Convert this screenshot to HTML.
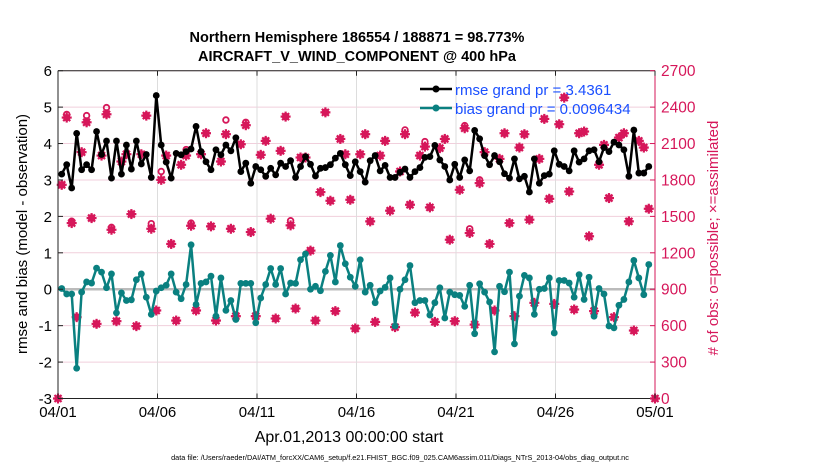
<!DOCTYPE html>
<html><head><meta charset="utf-8"><style>
body{margin:0;background:#fff;}
svg{display:block;font-family:"Liberation Sans",Arial,sans-serif;}
</style></head><body>
<svg id="chart" width="830" height="470" viewBox="0 0 830 470">
<text x="357" y="42" text-anchor="middle" font-size="14.5" font-weight="bold">Northern Hemisphere 186554 / 188871 = 98.773%</text>
<text x="357" y="61" text-anchor="middle" font-size="14.5" font-weight="bold">AIRCRAFT_V_WIND_COMPONENT @ 400 hPa</text>
<g id="grid"></g>
<g id="marks"></g>
<g id="axes"></g>
<text transform="translate(27,234) rotate(-90)" text-anchor="middle" font-size="15">rmse and bias (model - observation)</text>
<text transform="translate(718,238) rotate(-90)" text-anchor="middle" font-size="15" fill="#d6175a"># of obs: o=possible; ×=assimilated</text>
<text x="349" y="442" text-anchor="middle" font-size="16">Apr.01,2013 00:00:00 start</text>
<text x="400" y="460" text-anchor="middle" font-size="7.3">data file: /Users/raeder/DAI/ATM_forcXX/CAM6_setup/f.e21.FHIST_BGC.f09_025.CAM6assim.011/Diags_NTrS_2013-04/obs_diag_output.nc</text>
<g>
<line x1="420" y1="89" x2="452" y2="89" stroke="#000" stroke-width="2.5"/><circle cx="436" cy="89" r="3.5" fill="#000"/>
<text x="455" y="95" font-size="15" fill="#1a4fff">rmse grand pr = 3.4361</text>
<line x1="420" y1="108" x2="452" y2="108" stroke="#0a8080" stroke-width="2.5"/><circle cx="436" cy="108" r="3.5" fill="#0a8080"/>
<text x="455" y="114" font-size="15" fill="#1a4fff">bias grand pr = 0.0096434</text>
</g>
</svg>
<script>
const rmse=[3.16,3.42,2.78,4.28,3.28,3.42,3.28,4.33,3.7,4.07,3.05,4.07,3.16,3.96,3.3,4.07,3.44,3.7,3.07,5.32,3.96,3.49,3.05,3.73,3.69,3.78,3.85,4.47,3.78,3.5,
3.28,3.83,3.69,3.96,3.8,4.16,3.23,3.46,2.91,3.37,3.28,3.1,3.32,3.14,3.46,3.37,3.53,3.07,3.37,3.64,3.43,3.11,3.32,3.34,3.42,3.6,3.73,3.42,3.12,3.5,
3.23,2.94,3.53,3.67,3.25,3.4,3.07,3.07,3.21,3.3,3.07,3.23,3.34,3.62,3.64,3.95,3.55,3.37,3.0,3.43,3.07,3.55,3.25,4.36,4.13,3.67,3.42,3.67,3.5,3.17,
3.05,3.58,3.03,3.1,2.67,3.58,2.91,3.12,3.16,3.8,3.43,3.37,3.25,3.8,3.49,3.58,3.8,3.83,3.5,3.89,3.78,4.04,3.96,3.83,3.1,4.37,3.19,3.19,3.37];
const bias=[0.02,-0.13,-0.13,-2.17,-0.08,0.2,0.17,0.58,0.47,0.04,0.42,-0.65,-0.1,-0.31,-0.29,0.26,0.42,-0.22,-0.69,-0.05,0.04,0.11,0.42,-0.08,-0.26,0.13,1.22,-0.42,0.16,0.2,
0.36,-0.74,0.31,-0.58,-0.31,-0.83,0.16,0.16,0.16,-0.92,-0.24,0.13,0.57,0.13,0.57,-0.13,0.17,0.16,0.81,0.97,0,0.08,-0.04,0.49,0.93,0.2,1.2,0.7,0.33,0.08,
0.81,-0.08,0.11,-0.37,-0.05,0.05,0.31,-1.01,0,0.26,0.65,-0.37,-0.31,-0.31,-0.71,-0.37,0.04,-0.79,-0.08,-0.15,-0.17,-0.47,0.11,-1.22,0.15,-0.08,-0.35,-1.72,0.08,-0.07,
0.47,-1.5,-0.19,0.38,0.31,-0.69,0,0.02,0.31,-1.2,0.24,0.24,0.17,-0.22,0.4,-0.28,0.33,-0.74,0.02,-0.13,-1.01,-1.06,-0.44,-0.28,0.2,0.79,0.31,-0.15,0.68];
const nUsed=[1760,2314,1445,670,2029,2275,1486,615,2001,2341,1390,637,1952,2012,1519,596,2012,2330,1398,725,1801,2001,1273,642,1925,2001,1423,725,2012,2185,
1418,642,1952,2177,1398,678,2094,2251,1371,678,2007,2122,1481,659,2040,2322,1426,741,1985,1985,1218,642,1700,2357,1629,720,2138,2012,1637,577,
2012,2177,1459,631,2001,2122,1547,588,1870,2177,1596,708,2001,2075,1574,631,2062,2138,1308,637,1719,2226,1363,609,1774,2029,1273,725,1974,2185,
1445,678,2067,2177,1473,788,1974,2303,1645,779,2259,2478,1705,733,2185,2199,1336,720,1925,2089,1651,670,2149,2185,1459,560,2122,2067,1563];
const nPoss=[1760,2340,1460,670,2029,2330,1486,615,2001,2396,1410,637,1952,2012,1519,596,2012,2330,1440,725,1870,2001,1273,642,1925,2050,1445,725,2012,2185,
1418,642,1952,2294,1398,678,2094,2275,1371,678,2007,2122,1481,659,2040,2322,1464,741,1985,1985,1218,642,1700,2357,1629,720,2138,2012,1637,577,
2012,2177,1459,631,2001,2122,1547,588,1870,2212,1596,708,2001,2116,1574,631,2062,2138,1308,637,1719,2248,1398,609,1801,2029,1273,725,1974,2185,
1445,678,2067,2177,1473,788,1974,2303,1645,779,2259,2478,1705,733,2185,2199,1336,720,1925,2089,1651,670,2149,2185,1459,560,2122,2067,1563];
const edgeDays=[0,30];
const edgeCounts=[0,0];
const leftTicks=[-3,-2,-1,0,1,2,3,4,5,6];
const rightTicks=[0,300,600,900,1200,1500,1800,2100,2400,2700];
const dateTicks=[0,5,10,15,20,25,30];
const dateLabels=["04/01","04/06","04/11","04/16","04/21","04/26","05/01"];

const X0=58,X1=655,Y0=70.7,Y1=398.5;
const xs=d=>X0+(d/30)*(X1-X0);
const yl=v=>Y1-(v+3)/9*(Y1-Y0);
const yr=c=>Y1-c/2700*(Y1-Y0);
const dayOf=i=>(i+0.75)*0.25;
const NS="http://www.w3.org/2000/svg";
function mk(tag,attrs,parent){const e=document.createElementNS(NS,tag);for(const k in attrs)e.setAttribute(k,attrs[k]);parent.appendChild(e);return e;}
const grid=document.getElementById('grid'),marks=document.getElementById('marks'),axes=document.getElementById('axes');

leftTicks.forEach(v=>{
  const g=mk('line',{x1:X0,x2:X1,y1:yl(v),y2:yl(v),stroke:'#f1cfdc','stroke-width':1},grid);
  
  
});
dateTicks.forEach(d=>{
  const g=mk('line',{x1:xs(d),x2:xs(d),y1:Y0,y2:Y1,stroke:'#dddddd','stroke-width':1},grid);
  
  
});
const zl=mk('line',{x1:X0,x2:X1,y1:yl(0),y2:yl(0),stroke:'#bbbbbb','stroke-width':2.5},grid);



function star(cx,cy){
  const g=mk('g',{stroke:'#d6175a','stroke-width':2.2,fill:'#d6175a'},marks);
  
  
  mk('circle',{cx:cx,cy:cy,r:3.6,stroke:'none'},g);
  mk('line',{x1:cx-5,x2:cx+5,y1:cy,y2:cy},g);
  mk('line',{x1:cx,x2:cx,y1:cy-5,y2:cy+5},g);
  mk('line',{x1:cx-3.5,x2:cx+3.5,y1:cy-3.5,y2:cy+3.5},g);
  mk('line',{x1:cx-3.5,x2:cx+3.5,y1:cy+3.5,y2:cy-3.5},g);
}
nPoss.forEach((c,i)=>{
  const o=mk('circle',{cx:xs(dayOf(i)),cy:yr(c),r:2.8,fill:'none',stroke:'#d6175a','stroke-width':1.8},marks);
  
  
});
nUsed.forEach((c,i)=>star(xs(dayOf(i)),yr(c)));
edgeDays.forEach((d,i)=>star(xs(d),yr(edgeCounts[i])));

function series(vals,color,name){
  const pts=vals.map((v,i)=>xs(dayOf(i)).toFixed(1)+','+yl(v).toFixed(1)).join(' ');
  const pl=mk('polyline',{points:pts,fill:'none',stroke:color,'stroke-width':2.5,'stroke-linejoin':'round'},marks);
  
  
  vals.forEach((v,i)=>{
    const c=mk('circle',{cx:xs(dayOf(i)),cy:yl(v),r:3.4,fill:color},marks);
    
    
  });
}
series(bias,'#0a8080','bias');
series(rmse,'#000000','rmse');

mk('line',{x1:X0,x2:X1,y1:Y0,y2:Y0,stroke:'#222','stroke-width':1},axes);
mk('line',{x1:X0,x2:X1,y1:Y1,y2:Y1,stroke:'#222','stroke-width':1},axes);
mk('line',{x1:X0,x2:X0,y1:Y0,y2:Y1,stroke:'#222','stroke-width':1},axes);
mk('line',{x1:X1,x2:X1,y1:Y0,y2:Y1,stroke:'#d6175a','stroke-width':1},axes);
leftTicks.forEach(v=>{
  mk('line',{x1:X0,x2:X0+5,y1:yl(v),y2:yl(v),stroke:'#222'},axes);
  const t=mk('text',{x:X0-6,y:yl(v)+5.5,'text-anchor':'end','font-size':15},axes);
  
  
  t.textContent=v;
});
rightTicks.forEach(c=>{
  mk('line',{x1:X1-5,x2:X1,y1:yr(c),y2:yr(c),stroke:'#d6175a'},axes);
  const t=mk('text',{x:X1+6,y:yr(c)+5.5,'font-size':15.5,fill:'#d6175a'},axes);
  
  
  t.textContent=c;
});
dateTicks.forEach((d,i)=>{
  mk('line',{x1:xs(d),x2:xs(d),y1:Y1-5,y2:Y1,stroke:'#222'},axes);
  mk('line',{x1:xs(d),x2:xs(d),y1:Y0,y2:Y0+5,stroke:'#222'},axes);
  const t=mk('text',{x:xs(d),y:417,'text-anchor':'middle','font-size':15},axes);
  
  
  t.textContent=dateLabels[i];
});
</script>
</body></html>
